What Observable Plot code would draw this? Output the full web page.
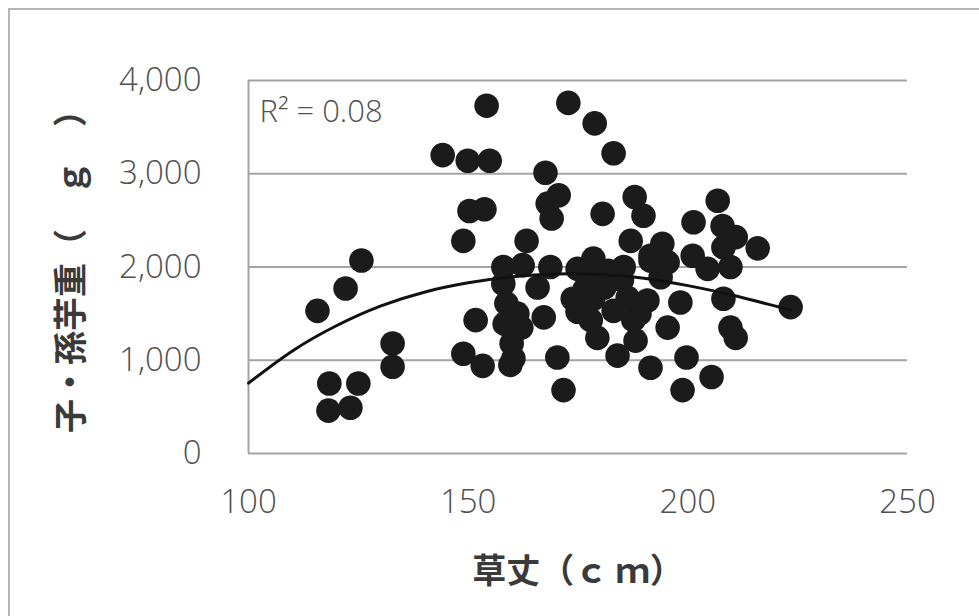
<!DOCTYPE html>
<html><head><meta charset="utf-8">
<script src="https://cdn.jsdelivr.net/npm/d3@7"></script>
<script src="https://cdn.jsdelivr.net/npm/@observablehq/plot@0.6"></script>
<style>
body{margin:0;background:#fff;width:979px;height:616px;overflow:hidden;position:relative;}
#frame{position:absolute;left:8px;top:8px;width:990px;height:640px;border:2px solid #b4b4b4;box-sizing:border-box;}
#chart{position:absolute;left:0;top:0;}
</style></head><body>
<div id="frame"></div><div id="chart"></div>
<script>
// 草丈 (cm)
const heights = [115.7,122.1,125.7,132.8,132.8,118.4,125.0,118.2,123.2,
  154.2,144.2,149.9,154.9,150.3,153.7,148.9,172.8,178.8,183.1,167.6,170.6,168.1,169.0,163.3,
  151.7,148.9,153.3,158.0,162.4,168.7,174.9,165.8,158.0,158.7,161.2,167.2,158.3,162.1,159.9,160.3,159.6,170.3,171.7,173.8,174.9,
  187.9,180.6,189.9,187.0,194.2,191.5,178.5,181.9,185.4,191.5,195.4,193.8,177.9,186.3,190.8,198.3,178.5,183.1,187.6,177.9,195.4,179.4,188.1,184.0,191.5,199.7,198.8,
  206.8,201.3,207.9,210.9,215.9,208.1,201.1,204.5,209.7,208.1,223.4,209.7,210.9,205.4,
  181.0,185.0,189.0,176.5];
// 子・孫芋重 (g)
const weights = [1530,1770,2070,1180,930,750,750,460,490,
  3730,3200,3140,3140,2600,2620,2280,3760,3540,3220,3010,2770,2680,2520,2280,
  1430,1070,940,2000,2020,2000,1980,1780,1820,1610,1500,1460,1390,1350,1180,1020,950,1030,680,1660,1520,
  2750,2570,2550,2280,2250,2120,2090,1960,2000,2070,2050,1890,1890,1670,1640,1620,1660,1530,1430,1430,1350,1240,1210,1050,920,1030,680,
  2710,2480,2440,2320,2200,2210,2120,1980,2000,1660,1570,1350,1240,820,
  1780,1860,1500,1760];
// polynomial trendline as drawn in the chart
const trendX = [100,110,120,130,140,150,160,170,180,190,200,210,220,223.4];
const trendY = [755,1100,1370,1580,1730,1830,1895,1925,1920,1880,1800,1700,1580,1540];
const xTicks = [100,150,200,250];
const yTicks = [0,1000,2000,3000,4000];
const xLabel = "草丈（ｃ ｍ）";
const yLabel = "子・孫芋重（　ｇ　）";
const r2Label = "R² = 0.08";

const data = heights.map((h,i)=>({x:h, y:weights[i]}));
const trend = trendX.map((x,i)=>({x, y:trendY[i]}));

const cjk = "'Noto Sans CJK JP','Noto Sans',sans-serif";
const num = "'Open Sans','Noto Sans',sans-serif";
const chart = Plot.plot({
  width:979, height:616,
  marginLeft:248, marginRight:72, marginTop:80, marginBottom:163,
  style:{fontFamily:num, background:"transparent", overflow:"visible"},
  x:{domain:[100,250], label:null},
  y:{domain:[0,4000], label:null},
  marks:[
    Plot.gridY(yTicks,{stroke:"#a3a3a3", strokeOpacity:1, strokeWidth:2}),
    Plot.ruleX([100],{stroke:"#a3a3a3", strokeWidth:2}),
    Plot.axisX(xTicks,{tickSize:0, tickPadding:36, fontSize:33, fontWeight:300, fill:"#505050", label:null}),
    Plot.axisY(yTicks,{tickSize:0, tickPadding:47, fontSize:33, fontWeight:300, fill:"#505050", tickFormat:d3.format(","), label:null}),
    Plot.dot(data,{x:"x", y:"y", r:12.3, fill:"#1b1b1b", stroke:null}),
    Plot.line(trend,{x:"x", y:"y", curve:"natural", stroke:"#111", strokeWidth:3}),
    Plot.text([r2Label],{frameAnchor:"top-left", dx:11, dy:32, lineAnchor:"middle", fontSize:31, fontWeight:300, fill:"#505050", textAnchor:"start"}),
    Plot.text([xLabel],{frameAnchor:"bottom", dy:119, lineAnchor:"middle", fontFamily:cjk, fontSize:34, fontWeight:"bold", fill:"#3a3a3a"}),
    Plot.text([yLabel],{frameAnchor:"left", dx:-176, dy:-4, rotate:-90, textAnchor:"middle", lineAnchor:"middle", fontFamily:cjk, fontSize:34, fontWeight:"bold", fill:"#3a3a3a"})
  ]
});
document.getElementById("chart").appendChild(chart);
</script>
</body></html>
